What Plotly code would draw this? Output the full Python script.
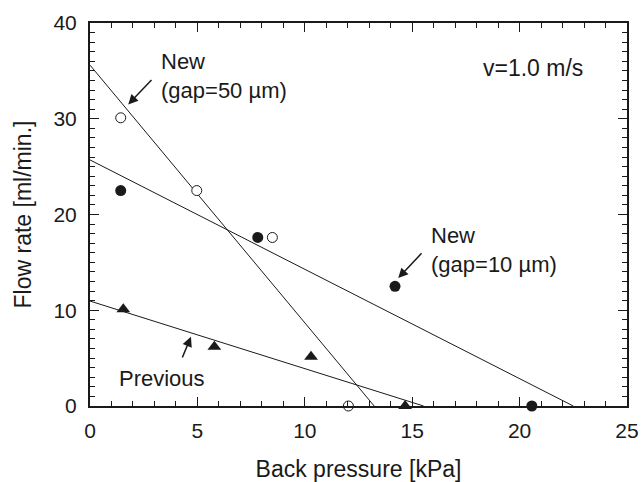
import plotly.graph_objects as go

# --- data ---
gap50_x = [1.43, 4.97, 8.49, 12.03]
gap50_y = [30.1, 22.5, 17.6, 0.0]

gap10_x = [1.43, 7.81, 14.2, 20.57]
gap10_y = [22.5, 17.6, 12.5, 0.0]

prev_x = [1.55, 5.79, 10.29, 14.67]
prev_y = [10.1, 6.2, 5.15, 0.0]

# fitted straight lines (endpoints)
fit50_x = [0.0, 13.23]
fit50_y = [35.6, 0.0]
fit10_x = [0.0, 22.5]
fit10_y = [25.7, 0.0]
fitprev_x = [0.0, 15.53]
fitprev_y = [10.96, 0.0]

FONT = "Liberation Sans, Arial, Helvetica, sans-serif"
INK = "#1a1a1a"

fig = go.Figure()

for fx, fy in [(fit50_x, fit50_y), (fit10_x, fit10_y), (fitprev_x, fitprev_y)]:
    fig.add_trace(go.Scatter(x=fx, y=fy, mode="lines",
                             line=dict(color=INK, width=1), showlegend=False,
                             hoverinfo="skip"))

fig.add_trace(go.Scatter(x=gap50_x, y=gap50_y, mode="markers", cliponaxis=False,
                         marker=dict(symbol="circle", size=10, color="white",
                                     line=dict(color=INK, width=1)),
                         showlegend=False))
fig.add_trace(go.Scatter(x=gap10_x, y=gap10_y, mode="markers", cliponaxis=False,
                         marker=dict(symbol="circle", size=11, color=INK,
                                     line=dict(color=INK, width=0)),
                         showlegend=False))
fig.add_trace(go.Scatter(x=prev_x, y=prev_y, mode="markers", cliponaxis=False,
                         marker=dict(symbol="triangle-up", size=12, color=INK,
                                     line=dict(color=INK, width=0)),
                         showlegend=False))

axis_common = dict(
    showgrid=False, zeroline=False, showline=True, linecolor=INK, linewidth=2,
    mirror="ticks", ticks="inside", ticklen=9, tickwidth=1, tickcolor=INK,
    tickfont=dict(family=FONT, size=21, color=INK),
)

fig.update_xaxes(range=[0, 25], dtick=5, tick0=0, ticklabelstandoff=5,
                 minor=dict(dtick=1, ticks="inside", ticklen=5, tickwidth=1, tickcolor=INK),
                 title=dict(text="Back pressure [kPa]", font=dict(family=FONT, size=23, color=INK),
                            standoff=28),
                 **axis_common)
fig.update_yaxes(range=[0, 40], dtick=10, tick0=0, ticklabelstandoff=7,
                 minor=dict(dtick=1, ticks="inside", ticklen=5, tickwidth=1, tickcolor=INK),
                 title=dict(text="Flow rate [ml/min.]", font=dict(family=FONT, size=23, color=INK),
                            standoff=15),
                 **axis_common)

ann_font = dict(family=FONT, size=22, color=INK)
annotations = [
    # arrows
    dict(x=1.78, y=31.5, ax=2.93, ay=34.2, axref="x", ayref="y", xref="x", yref="y",
         showarrow=True, arrowhead=2, arrowsize=1.3, arrowwidth=1.5, arrowcolor=INK, text=""),
    dict(x=14.35, y=13.36, ax=15.5, ay=16.1, axref="x", ayref="y", xref="x", yref="y",
         showarrow=True, arrowhead=2, arrowsize=1.3, arrowwidth=1.5, arrowcolor=INK, text=""),
    dict(x=4.70, y=7.23, ax=4.27, ay=4.9, axref="x", ayref="y", xref="x", yref="y",
         showarrow=True, arrowhead=2, arrowsize=1.3, arrowwidth=1.5, arrowcolor=INK, text=""),
    # texts
    dict(x=3.22, y=34.46, xref="x", yref="y", text="New<br>(gap=50 µm)", showarrow=False,
         xanchor="left", yanchor="middle", align="left", font=ann_font),
    dict(x=15.8, y=16.3, xref="x", yref="y", text="New<br>(gap=10 µm)", showarrow=False,
         xanchor="left", yanchor="middle", align="left", font=ann_font),
    dict(x=1.26, y=2.92, xref="x", yref="y", text="Previous", showarrow=False,
         xanchor="left", yanchor="middle", align="left", font=ann_font),
    dict(x=18.2, y=35.28, xref="x", yref="y", text="v=1.0 m/s", showarrow=False,
         xanchor="left", yanchor="middle", align="left",
         font=dict(family=FONT, size=23, color=INK)),
]

fig.update_layout(
    width=642, height=482,
    margin=dict(l=90, r=15, t=23, b=76, autoexpand=False),
    paper_bgcolor="white", plot_bgcolor="white",
    font=dict(family=FONT, color=INK),
    annotations=annotations,
    showlegend=False,
)

# remove the browser's default body margin so the figure sits at the window origin
fig.write_html(
    "out.html",
    config={"displayModeBar": False},
    post_script="document.body.style.margin='0';document.body.style.overflow='hidden';",
)
